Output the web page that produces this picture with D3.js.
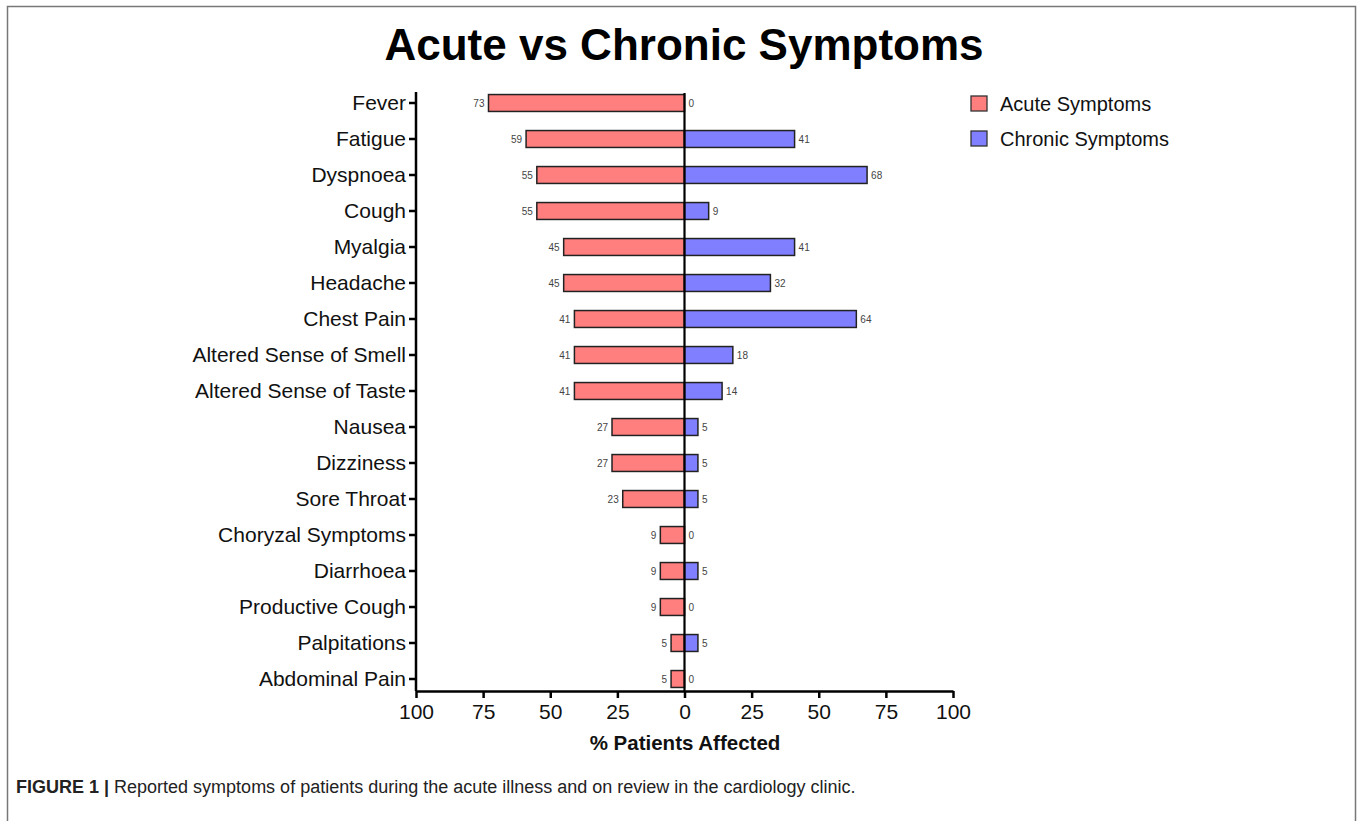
<!DOCTYPE html>
<html><head><meta charset="utf-8">
<script src="https://cdn.jsdelivr.net/npm/d3@7"></script>
<style>body{margin:0;background:#fff;} svg{display:block;font-family:"Liberation Sans",Arial,sans-serif;}</style>
</head><body>
<svg id="c" width="1360" height="821"></svg>
<script>
const categories = ["Fever","Fatigue","Dyspnoea","Cough","Myalgia","Headache","Chest Pain","Altered Sense of Smell","Altered Sense of Taste","Nausea","Dizziness","Sore Throat","Choryzal Symptoms","Diarrhoea","Productive Cough","Palpitations","Abdominal Pain"];
const acute = [73,59,55,55,45,45,41,41,41,27,27,23,9,9,9,5,5];
const chronic = [0,41,68,9,41,32,64,18,14,5,5,5,0,5,0,5,0];
const tickValues = [-100,-75,-50,-25,0,25,50,75,100];
const seriesNames = ["Acute Symptoms","Chronic Symptoms"];
const colors = ["#ff7f7f","#7f7fff"];

const svg = d3.select("#c");
// frame
svg.append("path").attr("d","M7.5,821 V6.5 H1355.5 V821").attr("fill","none").attr("stroke","#777").attr("stroke-width",1.5);

const x = d3.scaleLinear().domain([-100,100]).range([416,953]);
const y = d3.scaleBand().domain(categories).range([85,697]).paddingInner(0.53).paddingOuter(0.265);

svg.append("text").attr("x",684).attr("y",60).attr("text-anchor","middle")
  .attr("font-size",44).attr("font-weight","bold").text("Acute vs Chronic Symptoms");

const g = svg.append("g");
// bars
g.selectAll("rect.a").data(categories).join("rect").attr("class","a")
  .attr("x",(d,i)=>x(-acute[i])).attr("y",d=>y(d)).attr("width",(d,i)=>x(0)-x(-acute[i]))
  .attr("height",y.bandwidth()).attr("fill",colors[0]).attr("stroke","#222").attr("stroke-width",1.5);
g.selectAll("rect.c").data(categories).join("rect").attr("class","c")
  .attr("x",x(0)).attr("y",d=>y(d)).attr("width",(d,i)=>x(chronic[i])-x(0))
  .attr("height",y.bandwidth()).attr("fill",colors[1]).attr("stroke","#222").attr("stroke-width",1.5);
// value labels
g.selectAll("text.la").data(categories).join("text").attr("class","la")
  .attr("x",(d,i)=>x(-acute[i])-4).attr("y",d=>y(d)+y.bandwidth()/2+3.5)
  .attr("text-anchor","end").attr("font-size",10).attr("fill","#444").text((d,i)=>acute[i]);
g.selectAll("text.lc").data(categories).join("text").attr("class","lc")
  .attr("x",(d,i)=>x(chronic[i])+4).attr("y",d=>y(d)+y.bandwidth()/2+3.5)
  .attr("text-anchor","start").attr("font-size",10).attr("fill","#444").text((d,i)=>chronic[i]);

// zero line
svg.append("line").attr("x1",x(0)).attr("x2",x(0)).attr("y1",93).attr("y2",691).attr("stroke","#000").attr("stroke-width",2.2);

// x axis
const xa = svg.append("g").attr("transform","translate(0,691)")
  .call(d3.axisBottom(x).tickValues(tickValues).tickFormat(d=>Math.abs(d)).tickSize(7).tickSizeOuter(0));
xa.select(".domain").attr("stroke","#000").attr("stroke-width",2.5);
xa.selectAll(".tick line").attr("stroke","#000").attr("stroke-width",2.5);
xa.selectAll(".tick text").attr("font-size",21).attr("fill","#111").attr("dy","0.85em").attr("y",10).attr("font-family","Liberation Sans, Arial, sans-serif");

svg.append("text").attr("x",685).attr("y",750).attr("text-anchor","middle")
  .attr("font-size",20.5).attr("font-weight","bold").attr("fill","#111").text("% Patients Affected");

// y axis
const ya = svg.append("g").attr("transform","translate(416,0)")
  .call(d3.axisLeft(y).tickSize(7).tickSizeOuter(0).tickPadding(3));
ya.select(".domain").attr("d","M0,92V691").attr("stroke","#000").attr("stroke-width",2.5);
ya.selectAll(".tick line").attr("stroke","#000").attr("stroke-width",2.5);
ya.selectAll(".tick text").attr("font-size",21).attr("fill","#111").attr("font-family","Liberation Sans, Arial, sans-serif");

// legend
const lg = svg.append("g");
seriesNames.forEach((n,i)=>{
  lg.append("rect").attr("x",971).attr("y",96+i*35).attr("width",16).attr("height",15)
    .attr("fill",colors[i]).attr("stroke","#333").attr("stroke-width",1.3);
  lg.append("text").attr("x",1000).attr("y",111+i*35).attr("font-size",20).attr("fill","#111").text(n);
});

// caption
const cap = svg.append("text").attr("x",16).attr("y",793).attr("font-size",18).attr("fill","#222");
cap.append("tspan").attr("font-weight","bold").text("FIGURE 1 | ");
cap.append("tspan").text("Reported symptoms of patients during the acute illness and on review in the cardiology clinic.");
</script>
</body></html>
